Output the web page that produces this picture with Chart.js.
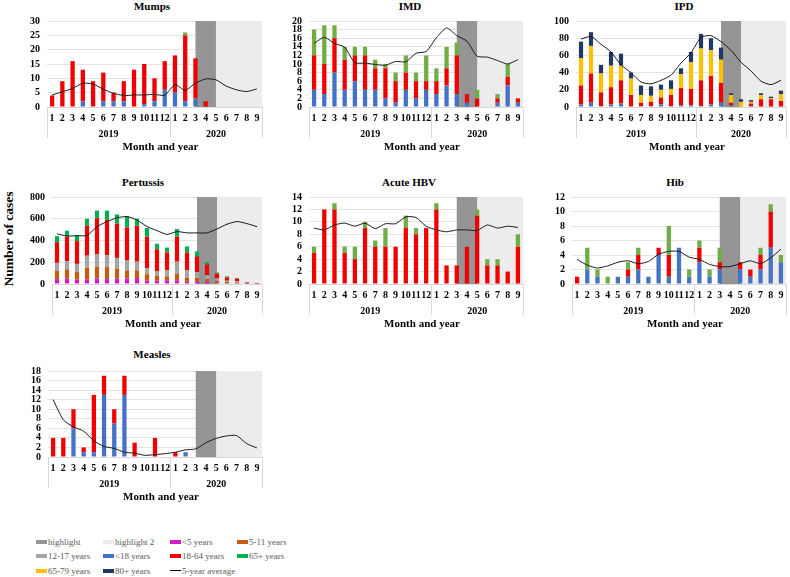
<!DOCTYPE html>
<html>
<head>
<meta charset="utf-8">
<script src="https://cdn.jsdelivr.net/npm/chart.js@4"></script>
<style>
  body { margin: 0; background: #fff; }
  #wrap { position: relative; width: 790px; height: 577px; overflow: hidden;
          font-family: "Liberation Serif", "Times New Roman", serif; }
  canvas { position: absolute; }
  .ttl { position: absolute; font-weight: bold; font-size: 11px; white-space: nowrap;
         transform: translate(-50%, -50%); }
  #ylab { position: absolute; left: 9px; top: 239px; font-weight: bold; font-size: 13.5px;
          white-space: nowrap; transform: translate(-50%, -50%) rotate(-90deg); }
  .lg { position: absolute; font-size: 9px; color: #595959; white-space: nowrap;
        display: flex; align-items: center; transform: translateY(-50%); }
  .sw { display: inline-block; width: 11px; height: 4px; margin-right: 1px; }
  .ln { display: inline-block; width: 11px; height: 1px; background: #000; margin-right: 1px; }
</style>
</head>
<body>
<div id="wrap">
  <div id="ylab">Number of cases</div>
</div>
<script>
// x axis: months Jan 2019 .. Sep 2020
const months = ['1','2','3','4','5','6','7','8','9','10','11','12','1','2','3','4','5','6','7','8','9'];
const yearLabels = ['2019', '2020'];
const hlDark = [14, 16];   // highlight: Mar..May 2020
const hlLight = [16, 20];  // highlight 2: May..Sep 2020

// Mumps
const mumpsTicks = [0,5,10,15,20,25,30];
const mumpsU18   = [0,0,0,2,0,2,2,2,0,1,2,6,5,2,3,0,0,0,0,0,0];
const mumps18_64 = [4,9,16,11,9,10,3,7,13,14,8,10,13,23,14,2,0,0,0,0,0];
const mumps65p   = [0,0,0,0,0,0,0,0,0,0,0,0,0,1,0,0,0,0,0,0,0];
const mumpsAvg   = [4.2,5.3,6.5,8.3,8.0,6.2,4.8,4.0,4.2,4.2,4.4,4.1,7.8,5.8,8.3,9.8,9.5,7.3,6.0,5.4,6.3];

// IMD
const imdTicks = [0,2,4,6,8,10,12,14,16,18,20];
const imdU18   = [4,3,8,4,6,4,4,2,1,4,2,4,3,5,3,1,0,0,1,5,1];
const imd18_64 = [8,7,8,7,6,8,5,7,5,4,4,2,3,4,9,2,2,0,1,2,1];
const imd65p   = [6,9,3,3,2,2,2,1,2,4,2,6,3,5,3,0,2,0,1,3,0];
const imdAvg   = [14.8,16.2,14.8,13.9,10.3,10.2,9.9,9.7,10.6,10.5,12.5,12.9,16.1,18.4,16.6,15.3,11.8,11.6,10.8,10.0,11.0];

// IPD
const ipdTicks = [0,20,40,60,80,100];
const ipdU18   = [3,5,1,3,4,0,1,1,3,1,2,2,1,3,5,2,0,1,0,0,0];
const ipd18_64 = [22,34,16,20,27,14,4,5,8,13,20,19,30,33,23,3,0,3,9,9,7];
const ipd65_79 = [32,32,22,25,17,19,9,7,9,7,16,31,37,30,27,9,6,2,5,1,8];
const ipd80p   = [19,16,10,16,14,7,11,11,6,10,7,12,17,14,14,2,3,2,2,2,4];
const ipdAvg   = [79,82,73,64,49,40,29,27,31,37,51,63,81,83,76,66,52,42,30,26,31];

// Pertussis
const pertTicks = [0,200,400,600,800];
const pertU5    = [45,50,40,40,50,45,50,50,55,30,30,35,35,20,20,20,10,5,5,2,1];
const pert5_11  = [75,85,70,110,110,110,90,75,70,60,45,35,60,35,35,25,20,15,10,3,2];
const pert12_17 = [75,75,75,110,115,110,100,90,80,55,40,55,110,70,55,35,20,10,10,3,2];
const pert18_64 = [190,225,210,275,330,325,315,305,330,290,205,165,230,165,145,100,45,30,25,7,3];
const pert65p   = [55,55,55,65,70,85,85,105,65,80,50,45,70,55,45,20,10,10,5,0,0];
const pertAvg   = [462,441,444,447,527,574,609,620,588,529,491,456,482,470,470,470,506,550,574,555,527];

// Acute HBV
const hbvTicks = [0,2,4,6,8,10,12,14];
const hbv18_64 = [5,12,12,5,4,9,6,6,6,9,8,9,12,3,3,6,11,3,3,2,6];
const hbv65p   = [1,0,1,1,2,1,1,3,0,2,1,0,1,0,0,0,1,1,1,0,2];
const hbvAvg   = [9.0,8.7,9.5,9.8,9.3,9.8,8.9,9.7,9.7,10.8,10.7,9.3,8.7,8.4,8.7,8.7,8.6,9.5,9.0,9.3,9.1];

// Hib
const hibTicks = [0,2,4,6,8,10,12];
const hibU18   = [0,2,1,0,1,1,2,1,4,1,5,1,3,1,2,0,2,1,2,5,3];
const hib18_64 = [1,0,0,0,0,1,2,0,1,3,0,0,2,0,1,0,1,1,2,5,0];
const hib65p   = [0,3,1,1,0,1,1,0,0,4,0,1,1,1,2,0,0,0,1,1,1];
const hibAvg   = [3.4,2.6,2.2,2.5,3.0,3.2,2.8,3.1,4.1,4.5,4.5,3.7,3.4,2.7,2.4,2.4,2.8,3.2,2.8,3.6,4.8];

// Measles
const measTicks = [0,2,4,6,8,10,12,14,16,18];
const measU18   = [0,0,6,1,1,13,7,13,0,0,0,0,0,1,0,0,0,0,0,0,0];
const meas18_64 = [4,4,4,1,12,4,3,4,3,0,4,0,1,0,0,0,0,0,0,0,0];
const measAvg   = [12.0,7.8,6.3,5.4,3.4,2.2,1.8,1.0,0.8,0.35,0.5,0.7,1.0,1.5,1.7,3.0,3.9,4.4,4.5,2.8,1.9];

const C = {
  hl: '#959595', hl2: '#ececec', u5: '#d41cc6', a5_11: '#c55a11', a12_17: '#a5a5a5',
  u18: '#4472c4', a18_64: '#f00000', a65p: '#70ad47', a65pP: '#00b050',
  a65_79: '#ffc000', a80p: '#203864'
};

Chart.defaults.font.family = "'Liberation Serif', 'Times New Roman', serif";
const wrap = document.getElementById('wrap');
const AX_W = 42, AX_H = 46, PAD_T = 10, PAD_R = 4;

// highlight bands + multi-level year axis
const panelDecor = {
  id: 'panelDecor',
  beforeDatasetsDraw(chart) {
    const { ctx, chartArea: a, scales: { x } } = chart;
    ctx.save();
    const xl = x.getPixelForValue(hlLight[0]);
    ctx.fillStyle = C.hl2;
    ctx.fillRect(xl, a.top, a.right - xl, a.bottom - a.top);
    const x0 = x.getPixelForValue(hlDark[0]), x1 = x.getPixelForValue(hlDark[1]);
    ctx.fillStyle = C.hl;
    ctx.fillRect(x0, a.top, x1 - x0, a.bottom - a.top);
    ctx.restore();
  },
  afterDraw(chart) {
    const { ctx, chartArea: a, scales: { x } } = chart;
    const mid = (x.getPixelForValue(11) + x.getPixelForValue(12)) / 2;
    ctx.save();
    ctx.strokeStyle = '#d9d9d9';
    ctx.lineWidth = 1;
    [a.left, mid, a.right].forEach(px => {
      ctx.beginPath();
      ctx.moveTo(Math.round(px) + 0.5, a.bottom);
      ctx.lineTo(Math.round(px) + 0.5, a.bottom + 31);
      ctx.stroke();
    });
    ctx.fillStyle = '#000';
    ctx.textAlign = 'center';
    ctx.textBaseline = 'middle';
    ctx.font = "bold 10px 'Liberation Serif', serif";
    ctx.fillText(yearLabels[0], (a.left + mid) / 2, a.bottom + 27.5);
    ctx.fillText(yearLabels[1], (mid + a.right) / 2, a.bottom + 27.5);
    ctx.font = "bold 11px 'Liberation Serif', serif";
    ctx.fillText('Month and year', (a.left + a.right) / 2 + 6, a.bottom + 40);
    ctx.restore();
  }
};

function makePanel(title, tpos, area, yTicks, series, avg) {
  const t = document.createElement('div');
  t.className = 'ttl';
  t.textContent = title;
  t.style.left = tpos[0] + 'px';
  t.style.top = tpos[1] + 'px';
  wrap.appendChild(t);

  const cv = document.createElement('canvas');
  cv.width = area.r - area.l + AX_W + PAD_R;
  cv.height = area.b - area.t + PAD_T + AX_H;
  cv.style.left = (area.l - AX_W) + 'px';
  cv.style.top = (area.t - PAD_T) + 'px';
  wrap.appendChild(cv);

  const datasets = [{
    type: 'line', label: '5-year average', data: avg, borderColor: '#1a1a1a',
    borderWidth: 1, pointRadius: 0, tension: 0.2, order: 0
  }];
  series.forEach(s => datasets.push({
    type: 'bar', label: s[0], data: s[1], backgroundColor: s[2],
    barPercentage: 0.42, categoryPercentage: 1, order: 1
  }));

  new Chart(cv, {
    type: 'bar',
    data: { labels: months, datasets },
    options: {
      responsive: false,
      animation: false,
      layout: { padding: { top: PAD_T, right: PAD_R, left: 0, bottom: 0 } },
      plugins: { legend: { display: false }, tooltip: { enabled: false } },
      scales: {
        x: {
          stacked: true, offset: true,
          grid: { display: false, drawTicks: false },
          border: { color: '#d9d9d9' },
          ticks: { autoSkip: false, maxRotation: 0, padding: 5, color: '#000',
                   font: { size: 10, weight: 'bold' } },
          afterFit(s) { s.height = AX_H; }
        },
        y: {
          stacked: true, min: 0, max: yTicks[yTicks.length - 1],
          grid: { color: '#e4e4e4', drawTicks: false },
          border: { display: false },
          ticks: { autoSkip: false, padding: 7, color: '#000',
                   font: { size: 10, weight: 'bold' } },
          afterBuildTicks(s) { s.ticks = yTicks.map(v => ({ value: v })); },
          afterFit(s) { s.width = AX_W; }
        }
      }
    },
    plugins: [panelDecor]
  });
}

makePanel('Mumps', [152, 6], { l: 47, t: 18, r: 262, b: 107 }, mumpsTicks, [
  ['<18 years', mumpsU18, C.u18], ['18-64 years', mumps18_64, C.a18_64], ['65+ years', mumps65p, C.a65p]
], mumpsAvg);

makePanel('IMD', [410, 6], { l: 309, t: 18, r: 523, b: 107 }, imdTicks, [
  ['<18 years', imdU18, C.u18], ['18-64 years', imd18_64, C.a18_64], ['65+ years', imd65p, C.a65p]
], imdAvg);

makePanel('IPD', [684, 6], { l: 576, t: 18, r: 786, b: 107 }, ipdTicks, [
  ['<18 years', ipdU18, C.u18], ['18-64 years', ipd18_64, C.a18_64],
  ['65-79 years', ipd65_79, C.a65_79], ['80+ years', ipd80p, C.a80p]
], ipdAvg);

makePanel('Pertussis', [143, 182], { l: 52, t: 194, r: 262, b: 284 }, pertTicks, [
  ['<5 years', pertU5, C.u5], ['5-11 years', pert5_11, C.a5_11], ['12-17 years', pert12_17, C.a12_17],
  ['18-64 years', pert18_64, C.a18_64], ['65+ years', pert65p, C.a65pP]
], pertAvg);

makePanel('Acute HBV', [409, 182], { l: 309, t: 194, r: 523, b: 284 }, hbvTicks, [
  ['18-64 years', hbv18_64, C.a18_64], ['65+ years', hbv65p, C.a65p]
], hbvAvg);

makePanel('Hib', [675, 182], { l: 572, t: 194, r: 786, b: 284 }, hibTicks, [
  ['<18 years', hibU18, C.u18], ['18-64 years', hib18_64, C.a18_64], ['65+ years', hib65p, C.a65p]
], hibAvg);

makePanel('Measles', [152, 354], { l: 48, t: 368, r: 262, b: 457 }, measTicks, [
  ['<18 years', measU18, C.u18], ['18-64 years', meas18_64, C.a18_64]
], measAvg);

// shared legend
const legendItems = [
  [36, 542, 'highlight', C.hl], [103, 542, 'highlight 2', C.hl2], [170, 542, '<5 years', C.u5], [237, 542, '5-11 years', C.a5_11],
  [36, 556, '12-17 years', C.a12_17], [103, 556, '<18 years', C.u18], [170, 556, '18-64 years', C.a18_64], [237, 556, '65+ years', C.a65pP],
  [36, 570.5, '65-79 years', C.a65_79], [103, 570.5, '80+ years', C.a80p], [170, 570.5, '5-year average', null]
];
legendItems.forEach(([lx, ly, text, color]) => {
  const d = document.createElement('div');
  d.className = 'lg';
  d.style.left = lx + 'px';
  d.style.top = ly + 'px';
  const sw = document.createElement('span');
  if (color) { sw.className = 'sw'; sw.style.background = color; } else { sw.className = 'ln'; }
  d.appendChild(sw);
  d.appendChild(document.createTextNode(text));
  wrap.appendChild(d);
});
</script>
</body>
</html>
